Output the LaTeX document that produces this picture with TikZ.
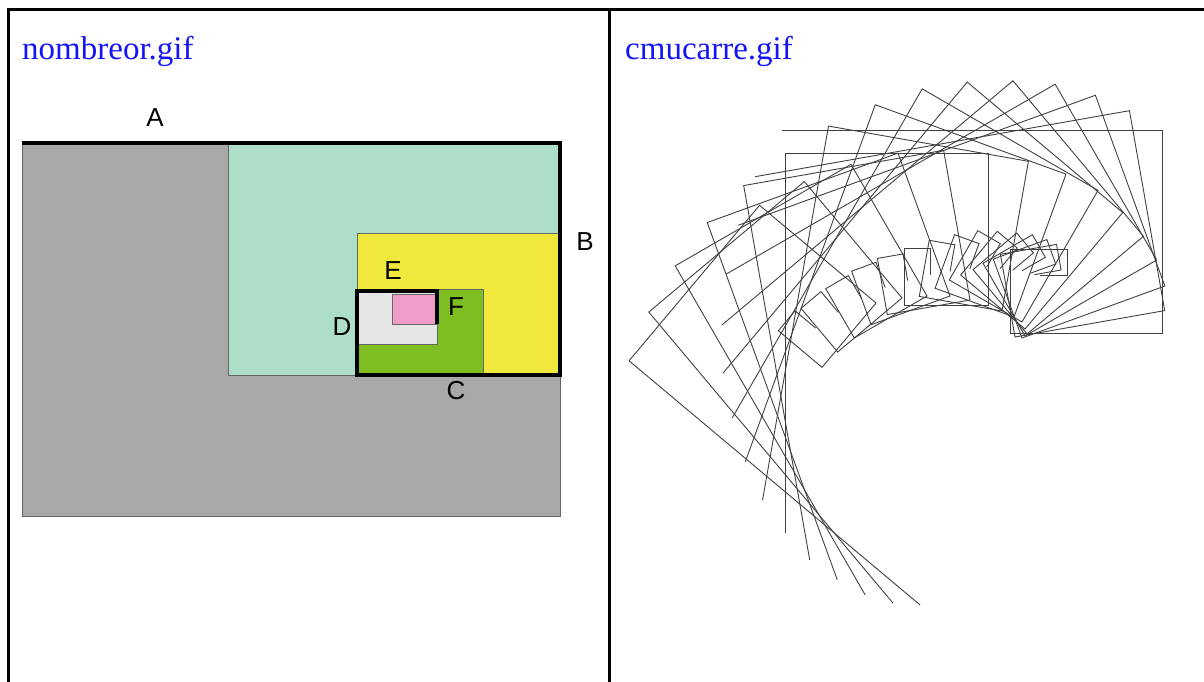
\documentclass[tikz,border=0pt]{standalone}
\usepackage{fontspec}
\setmainfont{Liberation Serif}
\newfontfamily\lettrefont{Liberation Sans}

\definecolor{lien}{RGB}{20,20,245}
\definecolor{gris}{RGB}{168,168,168}
\definecolor{menthe}{RGB}{172,222,200}
\definecolor{jaune}{RGB}{240,232,60}
\definecolor{vert}{RGB}{126,190,34}
\definecolor{grisclair}{RGB}{230,230,230}
\definecolor{rose}{RGB}{240,156,200}

\tikzset{
  titre/.style={anchor=base west, inner sep=0pt, text=lien, font=\fontsize{33}{39}\selectfont},
  lettre/.style={inner sep=0pt, font=\lettrefont\fontsize{26}{30}\selectfont},
  zone/.style={draw=black!60, line width=0.8pt},
  carre/.style={draw=black!75, line width=0.9pt, line join=miter},
}

\begin{document}
\begin{tikzpicture}[x=1pt,y=1pt]
\useasboundingbox (0,0) rectangle (1204,-682);
% cadre du tableau
\draw[line width=3pt] (8,-682) -- (8,-10) -- (1204,-10);
\draw[line width=3pt] (609,-10) -- (609,-682);
\node[titre] (nombreor) at (22,-60) {nombreor.gif};
\node[titre] (cmucarre) at (625,-60) {cmucarre.gif};

% nombre d'or
\draw[zone, fill=gris] (22,-143) rectangle (560,-516);
\draw[zone, fill=menthe] (228,-143) rectangle (560,-375);
\draw[zone, fill=jaune] (357,-233) rectangle (560,-375);
\draw[zone, fill=vert] (357,-289) rectangle (483,-375);
\draw[zone, fill=grisclair] (357,-289) rectangle (437,-344);
\draw[zone, fill=rose] (392,-294) rectangle (437,-324);
\draw[line width=4pt, line join=miter] (22,-143) -- (560,-143) -- (560,-375) -- (357,-375)
  -- (357,-291) -- (437,-291) -- (437,-324);
\node[lettre] (A) at (155,-118) {A};
\node[lettre] (B) at (585,-242) {B};
\node[lettre] (C) at (456,-391) {C};
\node[lettre] (D) at (342,-327) {D};
\node[lettre] (E) at (393,-271) {E};
\node[lettre] (F) at (456,-307) {F};

% carres qui roulent
\foreach \t/\qx/\qy in {0/1010/333, 10/1015/337, 20/1022/338, 30/1025/336, 40/1027/334,
    50/1025/329, 60/1022/322, 70/1014/317, 80/1002/311, 90/988/305, 100/970/300,
    110/950/296, 120/927/296, 130/902/298, 140/876/303}
  \draw[carre, shift={(\qx,-\qy)}, rotate=\t] (-228,203) -- (152,203) -- (152,0) -- (0,0)
    -- (0,84) -- (57,84) -- (57,58) -- (30,58);
\end{tikzpicture}
\end{document}
